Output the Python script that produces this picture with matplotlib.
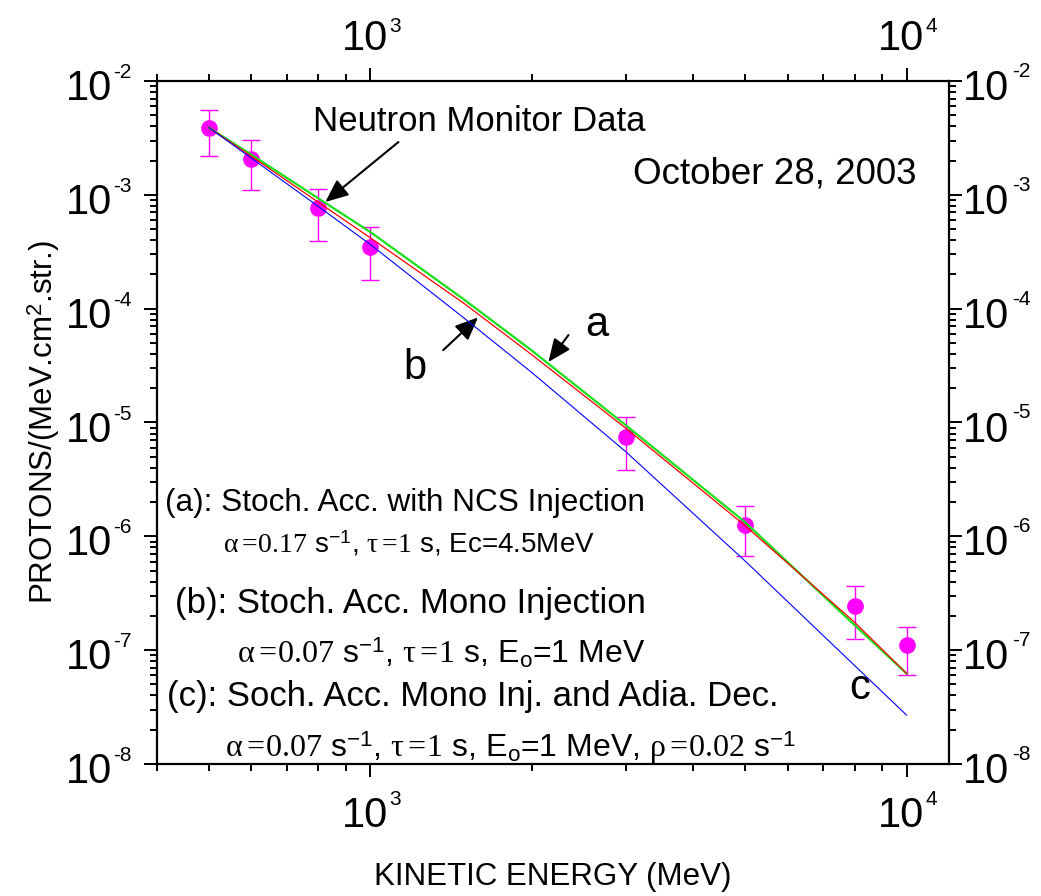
import matplotlib
matplotlib.use("Agg")
import matplotlib.pyplot as plt
from matplotlib.ticker import FixedLocator, NullFormatter

plt.rcParams['font.family'] = ['Liberation Sans', 'DejaVu Sans']
plt.rcParams['mathtext.fontset'] = 'custom'
plt.rcParams['mathtext.rm'] = 'Liberation Serif'
plt.rcParams['mathtext.it'] = 'Liberation Serif:italic'
plt.rcParams['mathtext.bf'] = 'Liberation Serif:bold'
plt.rcParams['mathtext.sf'] = 'Liberation Sans'

# Neutron monitor observations (MeV, protons/(MeV cm^2 sr))
energy_obs = [500, 600, 800, 1000, 3000, 5000, 8000, 10000]
flux_obs = [3.9e-3, 2.07e-3, 7.6e-4, 3.5e-4, 7.5e-6, 1.25e-6, 2.45e-7, 1.1e-7]
flux_err = [1.7e-3, 0.97e-3, 3.7e-4, 1.7e-4, 3.65e-6, 0.58e-6, 1.2e-7, 0.5e-7]

# Model spectra
energy_model = [500, 600, 800, 1000, 1500, 2000, 3000, 5000, 8000, 10000]
flux_a = [3.89e-3, 2.25e-3, 9.3e-4, 4.71e-4, 1.19e-4, 4.29e-5, 9.4e-6, 1.33e-6, 1.66e-7, 6.24e-8]
flux_b = [3.89e-3, 2.18e-3, 8.6e-4, 4.19e-4, 1.10e-4, 3.94e-5, 8.85e-6, 1.24e-6, 1.76e-7, 6.24e-8]
flux_c = [3.89e-3, 2.10e-3, 7.9e-4, 3.66e-4, 8.17e-5, 2.75e-5, 5.5e-6, 6.07e-7, 7.33e-8, 2.69e-8]

x_major = [1000, 10000]
x_minor = [400, 500, 600, 700, 800, 900, 2000, 3000, 4000, 5000, 6000, 7000, 8000, 9000]
y_exponents = [-2, -3, -4, -5, -6, -7, -8]

W, H = 1041, 896
fig = plt.figure(figsize=(W / 100, H / 100), dpi=100)
ax = fig.add_axes([157 / W, 1 - 764 / H, (949 - 157) / W, (764 - 81) / H])
ax.set_xscale('log')
ax.set_yscale('log')
ax.set_xlim(400, 12000)
ax.set_ylim(1e-8, 1e-2)

ax.errorbar(energy_obs, flux_obs, yerr=flux_err, fmt='o', color='#ff00ff',
            ms=11, elinewidth=1.0, capsize=6.5, capthick=1.0, zorder=2)
ax.plot(energy_model, flux_a, color='#18e018', lw=1.6, zorder=3)
ax.plot(energy_model, flux_b, color='#ff0000', lw=0.9, zorder=4)
ax.plot(energy_model, flux_c, color='#0000ff', lw=0.8, zorder=4)

# axes frame and ticks
for s in ax.spines.values():
    s.set_linewidth(1.6)
ax.xaxis.set_major_locator(FixedLocator(x_major))
ax.xaxis.set_minor_locator(FixedLocator(x_minor))
ymin = [m * 10.0 ** e for e in range(-8, -2) for m in range(2, 10)]
ax.yaxis.set_major_locator(FixedLocator([10.0 ** e for e in y_exponents]))
ax.yaxis.set_minor_locator(FixedLocator(ymin))
for axis in (ax.xaxis, ax.yaxis):
    axis.set_major_formatter(NullFormatter())
    axis.set_minor_formatter(NullFormatter())
ax.tick_params(which='both', direction='out', top=True, right=True, width=1.4)
ax.tick_params(which='major', length=9.6)
ax.tick_params(which='minor', length=4.8)

# power-of-ten tick labels on all four sides
def pow_label(xy, coords, base_off, exp_off, exp):
    ax.annotate('10', xy=xy, xycoords=coords, xytext=base_off, textcoords='offset pixels',
                ha='right', va='baseline', fontsize=30, annotation_clip=False)
    ax.annotate(str(exp), xy=xy, xycoords=coords, xytext=exp_off, textcoords='offset pixels',
                ha='left', va='baseline', fontsize=15, annotation_clip=False)

ytr = ax.get_yaxis_transform()
xtr = ax.get_xaxis_transform()
for e in y_exponents:
    pow_label((0, 10.0 ** e), ytr, (-45, -19), (-44, 3), e)
    pow_label((1, 10.0 ** e), ytr, (60, -19), (63, 4), e)
for xv, e in zip(x_major, [3, 4]):
    pow_label((xv, 1), xtr, (18, 31), (19, 49), e)
    pow_label((xv, 0), xtr, (18, -63), (19, -41), e)

fig.text(553 / W, 1 - 885 / H, 'KINETIC ENERGY (MeV)', ha='center', va='baseline', fontsize=22.5)
fig.text(44 / W, 1 - 422 / H, 'PROTONS/(MeV.cm$^{\\mathsf{2}}$.str.)', ha='center', va='center',
         rotation=90, fontsize=22.5)

# annotations
def ftext(x, y, s, size, **kw):
    fig.text(x / W, 1 - y / H, s, fontsize=size, va='baseline', **kw)

ftext(313, 131, 'Neutron Monitor Data', 25)
ftext(633, 183, 'October 28, 2003', 26.5)
fig.text(597 / W, 1 - 325 / H, 'a', fontsize=30, ha='center', va='center')
fig.text(415 / W, 1 - 368 / H, 'b', fontsize=30, ha='center', va='center')
fig.text(860 / W, 1 - 688 / H, 'c', fontsize=30, ha='center', va='center')

arrow = dict(arrowstyle='-|>,head_length=0.7,head_width=0.3', color='black', lw=1.5,
             mutation_scale=20, shrinkA=0, shrinkB=0)
ax.annotate('', xy=(824, 8.65e-4), xytext=(1128, 2.91e-3), arrowprops=arrow)
ax.annotate('', xy=(2148, 3.4e-5), xytext=(2341, 5.86e-5), arrowprops=arrow)
ax.annotate('', xy=(1588, 8.38e-5), xytext=(1367, 4.32e-5), arrowprops=arrow)

ftext(165, 511, '(a): Stoch. Acc. with NCS Injection', 22.7)
ftext(223, 552, r'$\mathrm{\alpha =\!0.17}$ s$^{\mathsf{-1}}$, $\mathrm{\tau =\!1}$ s, Ec=4.5MeV', 20)
ftext(175, 613, '(b): Stoch. Acc. Mono Injection', 25)
ftext(237, 663, r'$\mathrm{\alpha =\!0.07}$ s$^{\mathsf{-1}}$, $\mathrm{\tau =\!1}$ s, E$_{\mathsf{o}}$=1 MeV', 23)
ftext(167, 706, '(c): Soch. Acc. Mono Inj. and Adia. Dec.', 25)
ftext(225, 757, r'$\mathrm{\alpha =\!0.07}$ s$^{\mathsf{-1}}$, $\mathrm{\tau =\!1}$ s, E$_{\mathsf{o}}$=1 MeV, '
      r'$\mathrm{\rho =\!0.02}$ s$^{\mathsf{-1}}$', 23)

fig.savefig('out.png', dpi=100, facecolor='white')
